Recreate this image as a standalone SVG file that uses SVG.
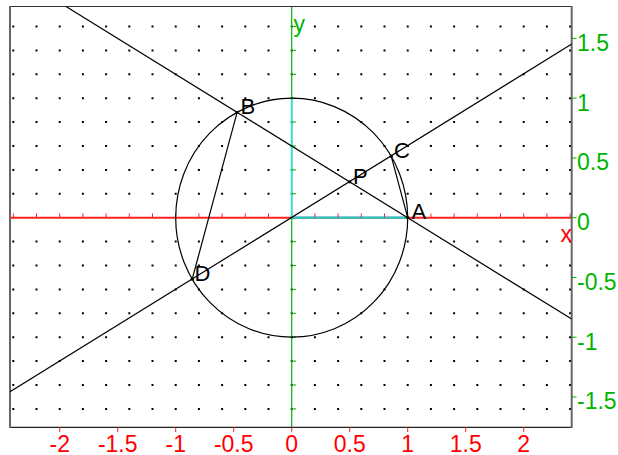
<svg xmlns="http://www.w3.org/2000/svg" width="618" height="455" viewBox="0 0 618 455">
<style>
.dots{stroke:#000;stroke-width:2;stroke-dasharray:2 21.2;fill:none}
.curve{stroke:#000;stroke-width:1.2;fill:none}
.pt{fill:#000}
.lbl{font-family:"Liberation Sans",Arial,sans-serif;font-size:22px;fill:#000}
.ax{font-family:"Liberation Sans",Arial,sans-serif;font-size:23px}
.gx{fill:#00b400}
.rx{fill:#ff0000}
</style>
<defs>
<clipPath id="plot"><rect x="10" y="6.5" width="561.7" height="420.8"/></clipPath>
</defs>
<rect x="0" y="0" width="618" height="455" fill="#fff"/>
<g id="grid">
<path class="dots" d="M12.3 26.5H572M12.3 50.4H572M12.3 74.3H572M12.3 98.2H572M12.3 122.1H572M12.3 146H572M12.3 169.9H572M12.3 193.8H572M12.3 241.6H572M12.3 265.5H572M12.3 289.4H572M12.3 313.3H572M12.3 337.2H572M12.3 361.1H572M12.3 385H572M12.3 408.9H572"/>
</g>
<g id="axes">
<line x1="10" y1="217.7" x2="571.7" y2="217.7" stroke="#ff2020" stroke-width="2"/>
<line x1="291.7" y1="6.5" x2="291.7" y2="427.3" stroke="#00b400" stroke-width="1.2"/>
<line x1="291.7" y1="217.7" x2="407.7" y2="217.7" stroke="#20c8c8" stroke-width="2.2"/>
<line x1="291.7" y1="98.2" x2="291.7" y2="217.7" stroke="#30e0e0" stroke-width="1.8"/>
<path stroke="#ff2020" stroke-width="1" fill="none" d="M13.3 213.5V217.7M36.5 213.5V217.7M59.7 213.5V217.7M82.9 213.5V217.7M106.1 213.5V217.7M129.3 213.5V217.7M152.5 213.5V217.7M175.7 213.5V217.7M198.9 213.5V217.7M222.1 213.5V217.7M245.3 213.5V217.7M268.5 213.5V217.7M314.9 213.5V217.7M338.1 213.5V217.7M361.3 213.5V217.7M384.5 213.5V217.7M407.7 213.5V217.7M430.9 213.5V217.7M454.1 213.5V217.7M477.3 213.5V217.7M500.5 213.5V217.7M523.7 213.5V217.7M546.9 213.5V217.7M570.1 213.5V217.7"/>
<path stroke="#00b400" stroke-width="1" fill="none" d="M291.7 26.5H296M291.7 50.4H296M291.7 74.3H296M291.7 98.2H296M291.7 122.1H296M291.7 146H296M291.7 169.9H296M291.7 193.8H296M291.7 241.6H296M291.7 265.5H296M291.7 289.4H296M291.7 313.3H296M291.7 337.2H296M291.7 361.1H296M291.7 385H296M291.7 408.9H296"/>
</g>
<g id="frame">
<line x1="10" y1="6.5" x2="571.7" y2="6.5" stroke="#333" stroke-width="1"/>
<line x1="10" y1="427.3" x2="571.7" y2="427.3" stroke="#222" stroke-width="1.3"/>
<line x1="10" y1="6" x2="10" y2="428" stroke="#666" stroke-width="2"/>
<line x1="571.7" y1="6" x2="571.7" y2="428" stroke="#666" stroke-width="2"/>
<path stroke="#ff2020" stroke-width="1" fill="none" d="M59.7 427.3V432M117.7 427.3V432M175.7 427.3V432M233.7 427.3V432M291.7 427.3V432M349.7 427.3V432M407.7 427.3V432M465.7 427.3V432M523.7 427.3V432"/>
<path stroke="#00b400" stroke-width="1" fill="none" d="M571.7 38.45H576.5M571.7 98.2H576.5M571.7 157.95H576.5M571.7 217.7H576.5M571.7 277.45H576.5M571.7 337.2H576.5M571.7 396.95H576.5"/>
</g>
<g id="circle">
<ellipse class="curve" cx="291.7" cy="217.7" rx="116" ry="119.5"/>
</g>
<g id="connectors" clip-path="url(#plot)">
<line class="curve" x1="66" y1="6.5" x2="571.7" y2="319.1"/>
<line class="curve" x1="10" y1="391.8" x2="571.7" y2="44"/>
<line class="curve" x1="237.1" y1="112.3" x2="192.2" y2="279.2"/>
<line class="curve" x1="391.2" y1="156.2" x2="407.7" y2="217.7"/>
</g>
<g id="pointA"><circle class="pt" cx="407.7" cy="217.7" r="1.6"/><text class="lbl" x="411.5" y="218.5">A</text></g>
<g id="pointB"><circle class="pt" cx="237.1" cy="112.3" r="1.6"/><text class="lbl" x="240.5" y="114">B</text></g>
<g id="pointC"><circle class="pt" cx="391.2" cy="156.2" r="1.6"/><text class="lbl" x="394" y="158">C</text></g>
<g id="pointD"><circle class="pt" cx="192.2" cy="279.2" r="1.6"/><text class="lbl" x="194.5" y="281">D</text></g>
<g id="pointP"><circle class="pt" cx="349.7" cy="181.85" r="1.6"/><text class="lbl" x="353" y="183.5">P</text></g>
<g id="labels">
<text class="ax rx" x="572" y="241.7" text-anchor="end">x</text>
<text class="ax gx" x="293.5" y="32">y</text>
<g class="ax gx">
<text x="577" y="50.8">1.5</text>
<text x="577" y="110.6">1</text>
<text x="577" y="170.4">0.5</text>
<text x="577" y="230.1">0</text>
<text x="577" y="289.9">-0.5</text>
<text x="577" y="349.6">-1</text>
<text x="577" y="409.4">-1.5</text>
</g>
<g class="ax rx" text-anchor="middle">
<text x="59.7" y="451.5">-2</text>
<text x="117.7" y="451.5">-1.5</text>
<text x="175.7" y="451.5">-1</text>
<text x="233.7" y="451.5">-0.5</text>
<text x="291.7" y="451.5">0</text>
<text x="349.7" y="451.5">0.5</text>
<text x="407.7" y="451.5">1</text>
<text x="465.7" y="451.5">1.5</text>
<text x="523.7" y="451.5">2</text>
</g>
</g>
</svg>
